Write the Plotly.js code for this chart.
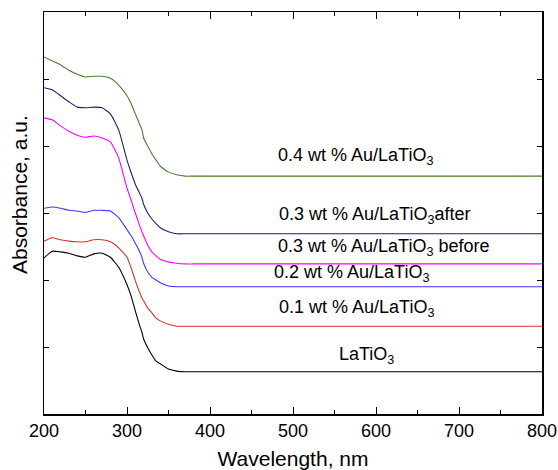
<!DOCTYPE html>
<html>
<head>
<meta charset="utf-8">
<script src="https://cdn.plot.ly/plotly-3.0.1.min.js"></script>
<style>html,body{margin:0;padding:0;background:#fff;}#chart{width:558px;height:470px;}</style>
</head>
<body>
<div id="chart"></div>
<script>
const wavelength = [200,210,220,230,240,250,260,270,280,290,300,305,310,315,318,320,325,330,335,340,350,360,370,380,400,500,600,700,800];

const latio3 = [2.33,2.43,2.42,2.40,2.36,2.34,2.39,2.40,2.34,2.19,1.93,1.76,1.54,1.33,1.22,1.12,0.99,0.88,0.79,0.75,0.67,0.64,0.63,0.63,0.63,0.63,0.63,0.63,0.63];
const au01 = [2.58,2.63,2.60,2.58,2.57,2.57,2.60,2.60,2.57,2.48,2.34,2.18,1.99,1.82,1.73,1.69,1.58,1.51,1.43,1.39,1.34,1.31,1.31,1.31,1.31,1.31,1.31,1.31,1.31];
const au02 = [3.07,3.09,3.07,3.04,3.03,3.01,3.04,3.04,3.03,2.93,2.75,2.66,2.55,2.43,2.34,2.25,2.12,2.04,2.00,1.96,1.91,1.90,1.90,1.90,1.90,1.90,1.90,1.90,1.90];
const au03before = [4.42,4.39,4.30,4.22,4.16,4.13,4.15,4.12,4.06,3.82,3.37,3.19,3.00,2.82,2.72,2.66,2.52,2.42,2.36,2.31,2.27,2.25,2.24,2.24,2.24,2.24,2.24,2.24,2.24];
const au03after = [4.87,4.84,4.75,4.66,4.58,4.57,4.58,4.57,4.48,4.24,3.79,3.60,3.43,3.30,3.22,3.13,3.00,2.91,2.84,2.78,2.72,2.69,2.69,2.69,2.69,2.69,2.69,2.69,2.69];
const au04 = [5.33,5.27,5.21,5.13,5.07,5.03,5.04,5.04,5.01,4.91,4.75,4.63,4.48,4.33,4.24,4.12,4.00,3.88,3.79,3.70,3.61,3.57,3.55,3.55,3.55,3.55,3.55,3.55,3.55];

const seriesNames = ['LaTiO3','0.1 wt % Au/LaTiO3','0.2 wt % Au/LaTiO3','0.3 wt % Au/LaTiO3 before','0.3 wt % Au/LaTiO3 after','0.4 wt % Au/LaTiO3'];
const labelTexts = ['LaTiO<sub>3</sub>','0.1 wt % Au/LaTiO<sub>3</sub>','0.2 wt % Au/LaTiO<sub>3</sub>','0.3 wt % Au/LaTiO<sub>3</sub> before','0.3 wt % Au/LaTiO<sub>3</sub>after','0.4 wt % Au/LaTiO<sub>3</sub>'];
const xTickVals = [200,300,400,500,600,700,800];

const seriesData = [latio3, au01, au02, au03before, au03after, au04];
const colors = ['#000000','#d9302c','#3a3aff','#ff00ff','#1e1e6e','#4a7c2c'];
const labelPos = [[553,0.88],[480.7,1.58],[474.7,2.10],[479.5,2.49],[480.7,2.97],[479.5,3.84]];

const font = 'Liberation Sans, Arial, sans-serif';

const traces = seriesData.map((y, i) => ({
  x: wavelength, y: y, type: 'scatter', mode: 'lines', name: seriesNames[i],
  line: {color: colors[i], width: 1.1, shape: 'spline', smoothing: 0.45},
  hoverinfo: 'skip'
}));

const annotations = labelTexts.map((t, i) => ({
  x: labelPos[i][0], y: labelPos[i][1], xref: 'x', yref: 'y', text: t,
  showarrow: false, xanchor: 'left', yanchor: 'middle',
  font: {family: font, size: 18, color: '#000'}
}));
annotations.push({
  x: -0.048, y: 0.545, xref: 'paper', yref: 'paper', text: 'Absorbance, a.u.',
  textangle: -90, showarrow: false, xanchor: 'center', yanchor: 'middle',
  font: {family: font, size: 21, color: '#000'}
});

const layout = {
  width: 558, height: 470,
  margin: {l: 44, r: 16, t: 12, b: 56},
  paper_bgcolor: '#fff', plot_bgcolor: '#fff',
  showlegend: false,
  font: {family: font, color: '#000'},
  xaxis: {
    range: [200, 800], tickvals: xTickVals, ticks: 'inside', ticklen: 7, tickwidth: 1,
    tickcolor: '#000', showline: true, linecolor: '#000', linewidth: 1.5, mirror: 'ticks',
    showgrid: false, zeroline: false,
    tickfont: {family: font, size: 18, color: '#000'},
    minor: {dtick: 50, ticks: 'inside', ticklen: 4, tickcolor: '#000', showgrid: false},
    title: {text: 'Wavelength, nm', font: {family: font, size: 21, color: '#000'}, standoff: 14}
  },
  yaxis: {
    range: [0, 6], dtick: 1, ticks: 'inside', ticklen: 5, tickwidth: 1, tickcolor: '#000',
    showticklabels: false, showline: true, linecolor: '#000', linewidth: 1.5, mirror: 'ticks',
    showgrid: false, zeroline: false
  },
  annotations: annotations
};

Plotly.newPlot('chart', traces, layout, {displayModeBar: false, staticPlot: true});
</script>
</body>
</html>
